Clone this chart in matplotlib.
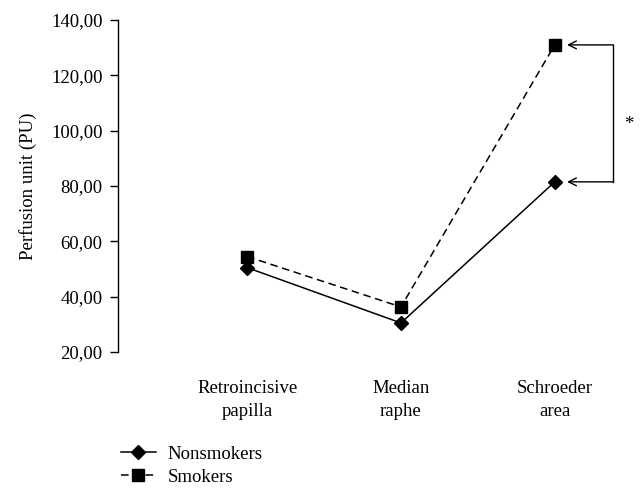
import numpy as np
import matplotlib.pyplot as plt
from matplotlib.ticker import FuncFormatter

plt.rcParams['font.family'] = ['Liberation Serif', 'DejaVu Serif']

# data
sites = ["Retroincisive\npapilla", "Median\nraphe", "Schroeder\narea"]
nonsmokers = [50.5, 30.5, 81.5]
smokers = [54.5, 36.3, 131.0]
yticks = [20, 40, 60, 80, 100, 120, 140]

fs = 13.5
x = np.arange(1, len(sites) + 1)

fig = plt.figure(figsize=(6.43, 4.90), dpi=100)
ax = fig.add_axes([0.1835, 0.2816, 0.751, 0.6776])

ax.plot(x, nonsmokers, 'k-', marker='D', markersize=7, linewidth=1.1, label="Nonsmokers")
ax.plot(x, smokers, 'k--', marker='s', markersize=9, linewidth=1.1, dashes=(5, 3), label="Smokers")

ax.set_xlim(0.16, 3.3)
ax.set_ylim(20, 140)
ax.set_yticks(yticks)
ax.yaxis.set_major_formatter(FuncFormatter(lambda v, p: f"{v:.2f}".replace('.', ',')))
ax.set_xticks(x)
ax.set_xticklabels(sites, fontsize=fs, linespacing=1.45)
ax.tick_params(axis='x', length=0, pad=20)
ax.tick_params(axis='y', labelsize=fs, length=6, width=1, direction='out', pad=5)
ax.set_ylabel("Perfusion unit (PU)", fontsize=fs, labelpad=10)

for s in ['top', 'right', 'bottom']:
    ax.spines[s].set_visible(False)
ax.spines['left'].set_linewidth(1)

# significance bracket at Schroeder area
bx = 3.38
ax.plot([bx, bx], [smokers[2], nonsmokers[2]], 'k-', linewidth=1, clip_on=False)
for yv in [smokers[2], nonsmokers[2]]:
    ax.annotate("", xy=(3.08, yv), xytext=(bx, yv),
                arrowprops=dict(arrowstyle='->', color='k', lw=1, shrinkA=0, shrinkB=0,
                                mutation_scale=14),
                annotation_clip=False)
ax.text(bx + 0.1, (smokers[2] + nonsmokers[2]) / 2 - 4, "*", fontsize=fs,
        ha='center', va='center', clip_on=False)

fig.legend(loc='lower left', bbox_to_anchor=(0.167, -0.018), frameon=False, fontsize=fs,
           handlelength=1.9, handletextpad=0.6, labelspacing=0.3, borderaxespad=0.3)

plt.savefig("out.png", dpi=100)
